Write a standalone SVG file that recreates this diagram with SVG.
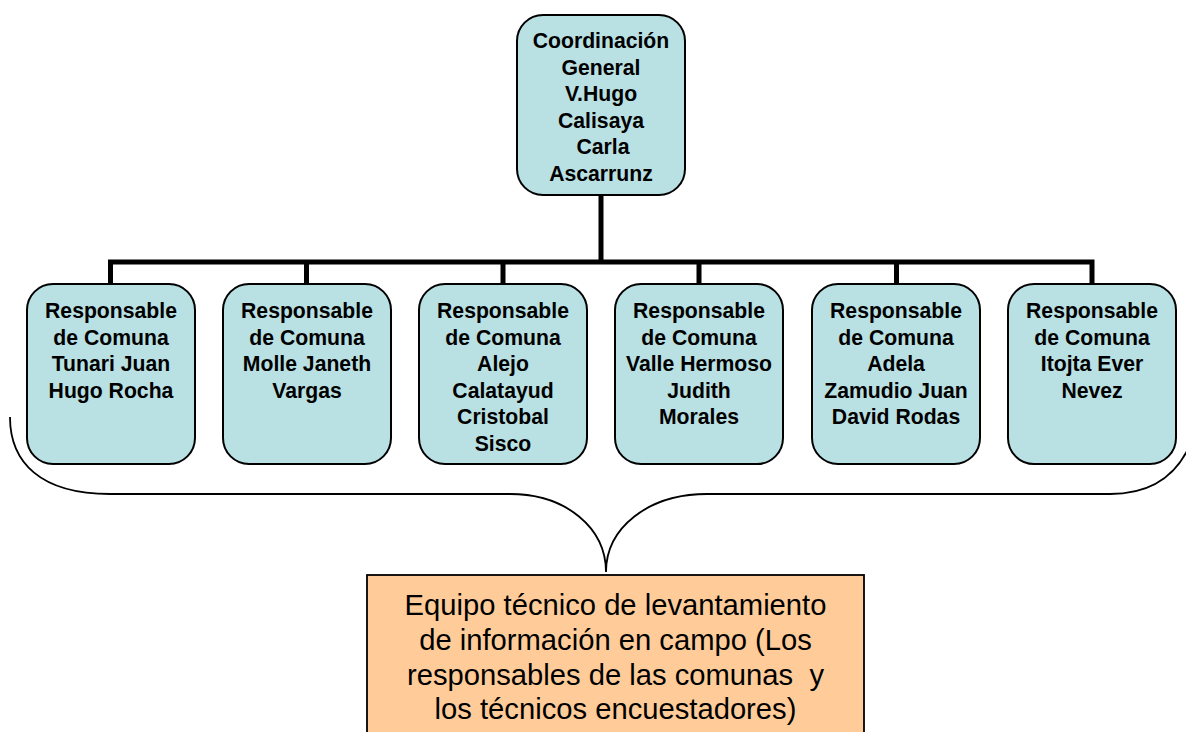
<svg xmlns="http://www.w3.org/2000/svg" width="1186" height="732" viewBox="0 0 1186 732">
<style>
.box{fill:#B9E0E3;stroke:#000;stroke-width:2}
.t{font-family:"Liberation Sans",Arial,sans-serif;font-weight:bold;font-size:21.2px;text-anchor:middle;fill:#000}
.bt{font-family:"Liberation Sans",Arial,sans-serif;font-size:29.2px;text-anchor:middle;fill:#000}
.con{stroke:#000;stroke-width:5;fill:none}
</style>
<rect width="1186" height="732" fill="#fff"/>
<g id="connectors">
<path class="con" d="M601 195 V262 M108 262 H1094.5 M110.5 262 V284 M306.5 262 V284 M503 262 V284 M699 262 V284 M896.5 262 V284 M1092 262 V284"/>
<path d="M10 417 C10 462 40 494 110 494 L510 494 C566 494 606 528 606 572 C606 528 648 494 707 494 L1110 494 C1150 494 1178 476 1192 440" fill="none" stroke="#000" stroke-width="1.8"/>
</g>
<g id="coordinacion">
<rect class="box" x="517" y="15" width="168" height="180" rx="26"/>
<text class="t"><tspan x="601" y="48">Coordinación</tspan><tspan x="601" y="74.5">General</tspan><tspan x="601" y="101">V.Hugo</tspan><tspan x="601" y="127.5">Calisaya</tspan><tspan x="603" y="154">Carla</tspan><tspan x="601" y="180.5">Ascarrunz</tspan></text>
</g>
<g id="tunari">
<rect class="box" x="27" y="284" width="168" height="180" rx="26"/>
<text class="t"><tspan x="111" y="318">Responsable</tspan><tspan x="111" y="344.5">de Comuna</tspan><tspan x="111" y="371">Tunari Juan</tspan><tspan x="111" y="397.5">Hugo Rocha</tspan></text>
</g>
<g id="molle">
<rect class="box" x="223" y="284" width="168" height="180" rx="26"/>
<text class="t"><tspan x="307" y="318">Responsable</tspan><tspan x="307" y="344.5">de Comuna</tspan><tspan x="307" y="371">Molle Janeth</tspan><tspan x="307" y="397.5">Vargas</tspan></text>
</g>
<g id="alejo">
<rect class="box" x="419" y="284" width="168" height="180" rx="26"/>
<text class="t"><tspan x="503" y="318">Responsable</tspan><tspan x="503" y="344.5">de Comuna</tspan><tspan x="503" y="371">Alejo</tspan><tspan x="503" y="397.5">Calatayud</tspan><tspan x="503" y="424">Cristobal</tspan><tspan x="503" y="450.5">Sisco</tspan></text>
</g>
<g id="valle">
<rect class="box" x="615" y="284" width="168" height="180" rx="26"/>
<text class="t"><tspan x="699" y="318">Responsable</tspan><tspan x="699" y="344.5">de Comuna</tspan><tspan x="699" y="371">Valle Hermoso</tspan><tspan x="699" y="397.5">Judith</tspan><tspan x="699" y="424">Morales</tspan></text>
</g>
<g id="adela">
<rect class="box" x="812" y="284" width="168" height="180" rx="26"/>
<text class="t"><tspan x="896" y="318">Responsable</tspan><tspan x="896" y="344.5">de Comuna</tspan><tspan x="896" y="371">Adela</tspan><tspan x="896" y="397.5">Zamudio Juan</tspan><tspan x="896" y="424">David Rodas</tspan></text>
</g>
<g id="itojta">
<rect class="box" x="1008" y="284" width="168" height="180" rx="26"/>
<text class="t"><tspan x="1092" y="318">Responsable</tspan><tspan x="1092" y="344.5">de Comuna</tspan><tspan x="1092" y="371">Itojta Ever</tspan><tspan x="1092" y="397.5">Nevez</tspan></text>
</g>
<g id="equipo">
<rect x="367" y="575" width="497" height="170" fill="#FFCC99" stroke="#000" stroke-width="1.8"/>
<text class="bt" xml:space="preserve"><tspan x="615.5" y="615">Equipo técnico de levantamiento</tspan><tspan x="615.5" y="650">de información en campo (Los</tspan><tspan x="615.5" y="684.5">responsables de las comunas  y</tspan><tspan x="615.5" y="719">los técnicos encuestadores)</tspan></text>
</g>
</svg>
